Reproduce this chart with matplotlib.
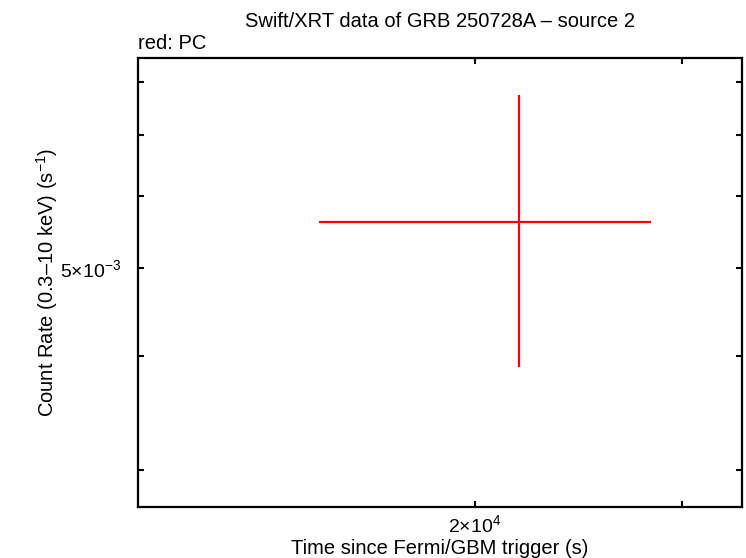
#!/usr/bin/python
# -*- coding: utf-8 -*-

import matplotlib
matplotlib.use("Agg")
import matplotlib.pyplot as plt
from matplotlib.ticker import FixedLocator, FixedFormatter, NullLocator

plt.rcParams["font.family"] = ["Liberation Sans", "DejaVu Sans"]
plt.rcParams["mathtext.fontset"] = "custom"
plt.rcParams["mathtext.rm"] = "Liberation Sans"
plt.rcParams["mathtext.it"] = "Liberation Sans:italic"

# PC data (one bin)
t = [2.18e4]
t_lo = [1.473e4]
t_hi = [2.824e4]
rate = [5.62e-3]
rate_lo = [3.89e-3]
rate_hi = [7.74e-3]

xticks = [2e4, 3e4]
xticklabels = [r"2$\times$10$^{4}$", ""]
yticks = [3e-3, 4e-3, 5e-3, 6e-3, 7e-3, 8e-3]
yticklabels = ["", "", r"5$\times$10$^{-3}$", "", "", ""]


def main():
    fig = plt.figure(figsize=(7.46, 5.58), dpi=100)
    ax = fig.add_axes([0.185, 0.0914, 0.8096, 0.8046])

    xerr = [[t[i] - t_lo[i] for i in range(len(t))], [t_hi[i] - t[i] for i in range(len(t))]]
    yerr = [[rate[i] - rate_lo[i] for i in range(len(t))], [rate_hi[i] - rate[i] for i in range(len(t))]]
    ax.errorbar(t, rate, xerr=xerr, yerr=yerr, fmt="none", ecolor="#ff0000",
                elinewidth=1.6, capsize=0)

    ax.set_xscale("log")
    ax.set_yscale("log")
    ax.set_xlim(1.033e4, 3.375e4)
    ax.set_ylim(2.73e-3, 8.51e-3)

    ax.xaxis.set_major_locator(FixedLocator(xticks))
    ax.xaxis.set_major_formatter(FixedFormatter(xticklabels))
    ax.xaxis.set_minor_locator(NullLocator())
    ax.yaxis.set_major_locator(FixedLocator(yticks))
    ax.yaxis.set_major_formatter(FixedFormatter(yticklabels))
    ax.yaxis.set_minor_locator(NullLocator())

    ax.tick_params(direction="in", top=True, right=True, length=4.5, width=1.5,
                   labelsize=14, pad=5)
    ax.tick_params(axis="y", pad=12)
    for s in ax.spines.values():
        s.set_linewidth(1.6)

    ax.set_xlabel("Time since Fermi/GBM trigger (s)", fontsize=14.5, labelpad=2.5)
    ax.set_ylabel("Count Rate (0.3\u201310 keV) (s$^{-1}$)", fontsize=14.5, labelpad=0)
    ax.set_title("Swift/XRT data of GRB 250728A \u2013 source 2", fontsize=14.5, pad=22)
    ax.text(0.0, 1.012, "red: PC", transform=ax.transAxes, fontsize=14.5,
            ha="left", va="bottom")

    fig.savefig("out.png", dpi=100)
    plt.close("all")
    return 0


if __name__ == "__main__":
    main()
